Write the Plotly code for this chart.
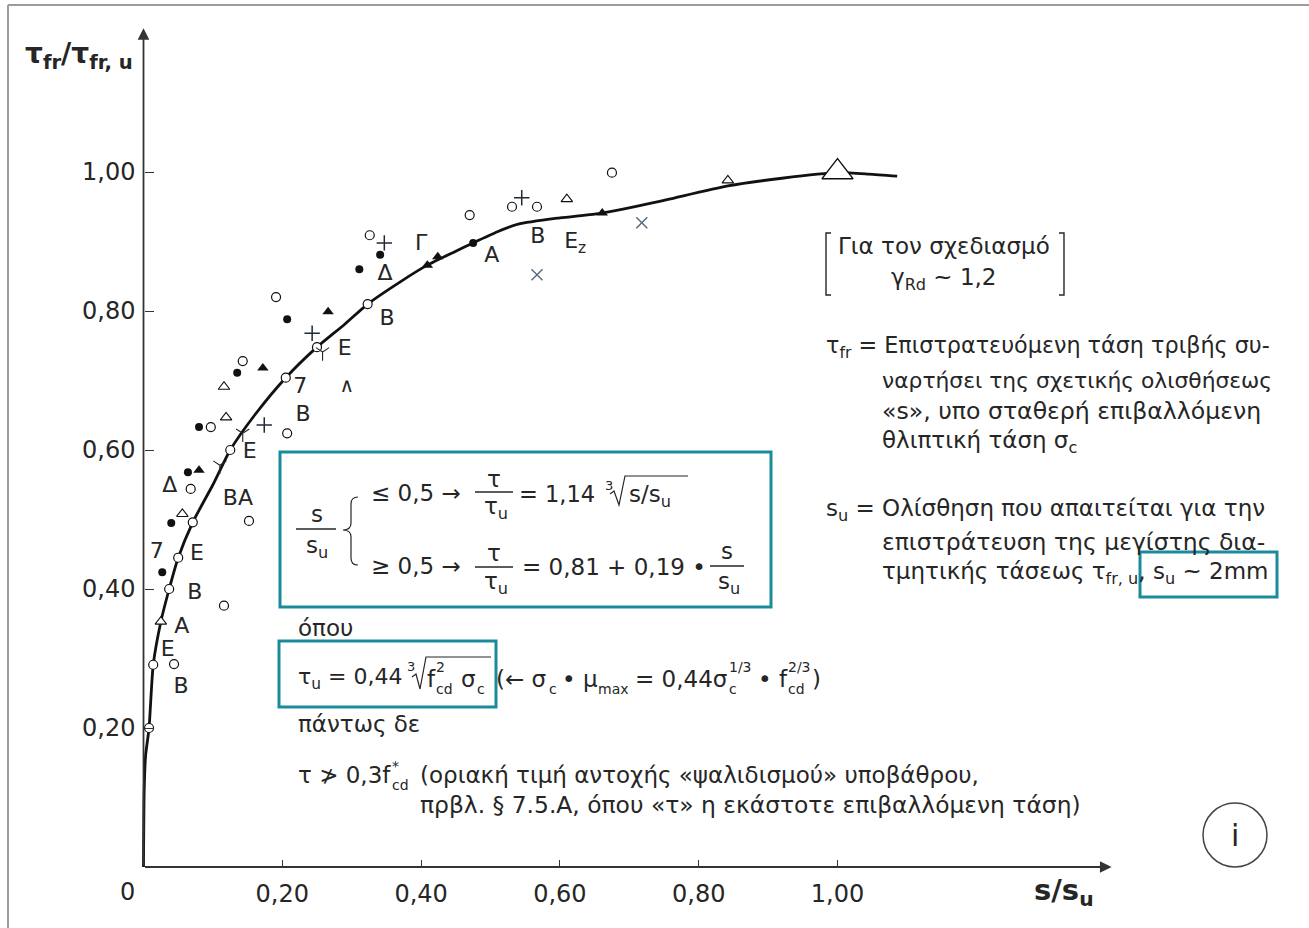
import plotly.graph_objects as go

# ---------------- data ----------------
x_tick_vals = [0.2, 0.4, 0.6, 0.8, 1.0]
x_tick_text = ["0,20", "0,40", "0,60", "0,80", "1,00"]
y_tick_vals = [0.2, 0.4, 0.6, 0.8, 1.0]
y_tick_text = ["0,20", "0,40", "0,60", "0,80", "1,00"]

# design curve tau_fr / tau_fr,u versus s / s_u
curve_x = [0.000, 0.001, 0.003, 0.008, 0.014, 0.025, 0.037, 0.050, 0.071, 0.100,
           0.125, 0.160, 0.205, 0.250, 0.290, 0.323, 0.370, 0.409, 0.450, 0.475,
           0.510, 0.540, 0.600, 0.661, 0.740, 0.842, 0.920, 1.000, 1.045, 1.086]
curve_y = [0.000, 0.110, 0.160, 0.200, 0.291, 0.353, 0.400, 0.445, 0.496, 0.550,
           0.600, 0.650, 0.704, 0.748, 0.781, 0.810, 0.842, 0.866, 0.886, 0.898,
           0.914, 0.925, 0.934, 0.941, 0.957, 0.980, 0.991, 0.999, 0.997, 0.994]

open_circle_x = [0.008, 0.014, 0.044, 0.037, 0.116, 0.050, 0.071, 0.152, 0.068, 0.125, 0.097,
                 0.207, 0.143, 0.205, 0.250, 0.191, 0.323, 0.326, 0.470, 0.531, 0.567, 0.675]
open_circle_y = [0.200, 0.291, 0.292, 0.400, 0.376, 0.445, 0.496, 0.498, 0.544, 0.600, 0.633,
                 0.624, 0.728, 0.704, 0.748, 0.820, 0.810, 0.909, 0.938, 0.950, 0.950, 0.999]

filled_circle_x = [0.027, 0.040, 0.064, 0.080, 0.135, 0.207, 0.311, 0.341, 0.475]
filled_circle_y = [0.424, 0.495, 0.568, 0.633, 0.711, 0.788, 0.860, 0.881, 0.898]

open_triangle_x = [0.025, 0.056, 0.119, 0.116, 0.610, 0.842]
open_triangle_y = [0.353, 0.508, 0.647, 0.691, 0.961, 0.988]

filled_triangle_x = [0.080, 0.172, 0.266, 0.409, 0.424, 0.661]
filled_triangle_y = [0.571, 0.718, 0.799, 0.866, 0.878, 0.941]

plus_x = [0.174, 0.243, 0.347, 0.545]
plus_y = [0.636, 0.768, 0.898, 0.963]

cross_x = [0.567, 0.718]
cross_y = [0.852, 0.927]

wedge_x = [0.110, 0.143, 0.258]
wedge_y = [0.578, 0.624, 0.741]

caret_x = [0.293]
caret_y = [0.691]

peak_x = [1.000]
peak_y = [1.000]

label_text = ["E", "Γ", "Δ", "B", "A", "B", "E<sub>z</sub>", "7", "B", "E", "BA",
              "Δ", "7", "E", "B", "A", "E", "B"]
label_x = [0.290, 0.400, 0.348, 0.351, 0.502, 0.568, 0.622, 0.226, 0.230, 0.153, 0.136,
           0.038, 0.019, 0.077, 0.074, 0.055, 0.035, 0.054]
label_y = [0.744, 0.895, 0.853, 0.788, 0.878, 0.906, 0.898, 0.690, 0.650, 0.597, 0.529,
           0.547, 0.452, 0.449, 0.393, 0.344, 0.312, 0.259]

x_axis_end = 1.395
y_axis_end = 1.207

# ---------------- layout helpers ----------------
W, H = 1309, 928
X0, XU = 143.5, 694.0   # pixel of s/su = 0, pixels per unit
Y0, YU = 867.0, 695.0   # pixel of tau = 0, pixels per unit
x_range = [-X0 / XU, (W - X0) / XU]
y_range = [(Y0 - H) / YU, Y0 / YU]

FONT = "DejaVu Sans, Liberation Sans, sans-serif"
TXT = "#262626"
INK = "#111111"
TEAL = "#1b8b9b"

annotations = []
shapes = []


def P(x):
    return x / W


def Q(y):
    return 1 - y / H


def T(x, y, s, size=23, xa="left", ya="middle", color=TXT, family=FONT):
    annotations.append(dict(x=P(x), y=Q(y), xref="paper", yref="paper", text=s,
                            showarrow=False, xanchor=xa, yanchor=ya, borderpad=0,
                            font=dict(size=size, color=color, family=family)))


def L(x0, y0, x1, y1, color=TXT, width=1.3):
    shapes.append(dict(type="line", xref="paper", yref="paper", x0=P(x0), y0=Q(y0),
                       x1=P(x1), y1=Q(y1), line=dict(color=color, width=width)))


def RECT(x0, y0, x1, y1, color=TEAL, width=3):
    shapes.append(dict(type="rect", xref="paper", yref="paper", x0=P(x0), y0=Q(y0),
                       x1=P(x1), y1=Q(y1), line=dict(color=color, width=width)))


def PATH(cmds, color=TXT, width=1.3):
    parts = []
    for c in cmds:
        op, pts = c[0], c[1:]
        parts.append(op + " " + " ".join(f"{P(pts[i]):.5f},{Q(pts[i+1]):.5f}"
                                         for i in range(0, len(pts), 2)))
    shapes.append(dict(type="path", xref="paper", yref="paper", path=" ".join(parts),
                       line=dict(color=color, width=width)))


def POLY(pts, color=TXT, width=1.3):
    cmds = [("M", pts[0][0], pts[0][1])] + [("L", x, y) for x, y in pts[1:]]
    PATH(cmds, color, width)


fig = go.Figure()

# curve
fig.add_trace(go.Scatter(x=curve_x, y=curve_y, mode="lines",
                         line=dict(color=INK, width=2.8, shape="spline", smoothing=0.6),
                         hoverinfo="skip"))

fig.add_trace(go.Scatter(x=filled_circle_x, y=filled_circle_y, mode="markers",
                         marker=dict(symbol="circle", size=8, color=INK)))
fig.add_trace(go.Scatter(x=open_circle_x, y=open_circle_y, mode="markers",
                         marker=dict(symbol="circle", size=9, color="white",
                                     line=dict(color=INK, width=1.2))))
fig.add_trace(go.Scatter(x=open_triangle_x, y=open_triangle_y, mode="markers",
                         marker=dict(symbol="triangle-up", size=10, color="white",
                                     line=dict(color=INK, width=1.1))))
fig.add_trace(go.Scatter(x=filled_triangle_x, y=filled_triangle_y, mode="markers",
                         marker=dict(symbol="triangle-up", size=10, color=INK)))
fig.add_trace(go.Scatter(x=plus_x, y=plus_y, mode="markers",
                         marker=dict(symbol="cross-thin", size=11, color="#1f2a36",
                                     line=dict(color="#1f2a36", width=1.5))))
fig.add_trace(go.Scatter(x=cross_x, y=cross_y, mode="markers",
                         marker=dict(symbol="x-thin", size=11, color="#55677a",
                                     line=dict(color="#55677a", width=1.4))))
fig.add_trace(go.Scatter(x=wedge_x, y=wedge_y, mode="markers",
                         marker=dict(symbol="y-down-open", size=11, color=TXT,
                                     line=dict(color=TXT, width=1.1))))
fig.add_trace(go.Scatter(x=caret_x, y=caret_y, mode="text", text=["∧"],
                         textfont=dict(size=20, color=TXT, family=FONT)))
fig.add_trace(go.Scatter(x=peak_x, y=peak_y, mode="markers",
                         marker=dict(symbol="triangle-up", size=27, color="white",
                                     line=dict(color=INK, width=1.3))))
fig.add_trace(go.Scatter(x=label_x, y=label_y, mode="text", text=label_text,
                         textposition="middle center",
                         textfont=dict(size=22, color=TXT, family=FONT)))

# axes arrows
annotations.append(dict(x=x_axis_end, y=0, ax=0, ay=0, xref="x", yref="y", axref="x",
                        ayref="y", showarrow=True, arrowhead=2, arrowsize=1.3,
                        arrowwidth=1.8, arrowcolor="#333333", text=""))
annotations.append(dict(x=0, y=y_axis_end, ax=0, ay=0, xref="x", yref="y", axref="x",
                        ayref="y", showarrow=True, arrowhead=2, arrowsize=1.3,
                        arrowwidth=1.8, arrowcolor="#333333", text=""))

# axis titles and origin label
T(127, 892, "0", size=24, xa="center")
T(24, 55, "<b>τ<sub>fr</sub>/τ<sub>fr, u</sub></b>", size=28)
T(1033, 892, "<b>s/s<sub>u</sub></b>", size=29)

# page frame
L(8, 5, 8, 928, "#9c9c9c", 2)
L(8, 5, 1309, 5, "#9c9c9c", 2)

# ---- formula box 1 ----
RECT(280, 452, 771, 607)
T(317, 514, "s", xa="center")
L(296, 529, 336, 529)
T(317, 547, "s<sub>u</sub>", xa="center")
PATH([("M", 358, 497), ("Q", 351, 497, 351, 504), ("L", 351, 523),
      ("Q", 351, 530, 343, 530), ("Q", 351, 530, 351, 537), ("L", 351, 558),
      ("Q", 351, 565, 358, 565)], width=1.2)
T(370, 493, "≤ 0,5 →")
T(494, 479, "τ", xa="center")
L(475, 492, 513, 492)
T(496, 508, "τ<sub>u</sub>", xa="center")
T(518, 494, "= 1,14", size=22.5)
T(609, 486, "3", size=13, xa="center")
POLY([(610, 494), (614, 491), (619, 505), (625, 476), (688, 476)], width=1.2)
T(628, 496, "s/s<sub>u</sub>")
T(370, 566, "≥ 0,5 →")
T(494, 553, "τ", xa="center")
L(475, 567, 513, 567)
T(496, 583, "τ<sub>u</sub>", xa="center")
T(521, 567, "= 0,81 + 0,19 •")
T(727, 551, "s", xa="center")
L(710, 566, 744, 566)
T(729, 583, "s<sub>u</sub>", xa="center")

# ---- lower text ----
T(297, 628, "όπου")
RECT(279, 641, 496, 707)
T(297, 678, "τ<sub>u</sub> = 0,44", size=22)
T(411, 666, "3", size=13, xa="center")
POLY([(412, 677), (416, 674), (420, 689), (426, 657), (491, 657)], width=1.2)
T(426, 679, "f")
T(435, 667, "2", size=14)
T(435, 689, "cd", size=14)
T(460, 679, "σ")
T(476, 689, "c", size=14)
T(495, 679, "(← σ")
T(548, 689, "c", size=14)
T(561, 679, "• μ")
T(597, 689, "max", size=14)
T(634, 679, "= 0,44σ")
T(728, 689, "c", size=14)
T(728, 667, "1/3", size=14)
T(757, 679, "• f")
T(787, 689, "cd", size=14)
T(787, 667, "2/3", size=14)
T(811, 679, ")")
T(297, 724, "πάντως δε")
T(297, 775, "τ ≯ 0,3f")
T(391, 766, "*", size=14)
T(391, 785, "cd", size=14)
T(419, 775, "(οριακή τιμή αντοχής «ψαλιδισμού» υποβάθρου,")
T(419, 805, "πρβλ. § 7.5.Α, όπου «τ» η εκάστοτε επιβαλλόμενη τάση)", size=23.4)

# ---- right panel ----
T(944, 246, "Για τον σχεδιασμό", xa="center")
T(944, 279, "γ<sub>Rd</sub> ~ 1,2", xa="center")
POLY([(831, 233), (826, 233), (826, 295), (831, 295)], width=1.4)
POLY([(1059, 233), (1064, 233), (1064, 295), (1059, 295)], width=1.4)
T(825, 347, "τ<sub>fr</sub> = Επιστρατευόμενη τάση τριβής συ-", size=22.3)
T(881, 380, "ναρτήσει της σχετικής ολισθήσεως", size=21.8)
T(881, 411, "«s», υπο σταθερή επιβαλλόμενη", size=23.6)
T(881, 442, "θλιπτική τάση σ<sub>c</sub>")
T(825, 510, "s<sub>u</sub> = Ολίσθηση που απαιτείται για την")
T(881, 542, "επιστράτευση της μεγίστης δια-", size=23.5)
T(881, 573, "τμητικής τάσεως τ<sub>fr, u</sub>, s<sub>u</sub> ~ 2mm")
RECT(1140, 552, 1277, 597)

# circled i
shapes.append(dict(type="circle", xref="paper", yref="paper", x0=P(1203), x1=P(1267),
                   y0=Q(867), y1=Q(803), line=dict(color="#444444", width=1.5)))
T(1235, 835, "i", size=30, xa="center")

fig.update_layout(
    width=W, height=H, margin=dict(l=0, r=0, t=0, b=0),
    paper_bgcolor="white", plot_bgcolor="white", showlegend=False,
    xaxis=dict(range=x_range, domain=[0, 1], anchor="free", position=(H - Y0) / H,
               showgrid=False, zeroline=False, showline=False,
               tickvals=x_tick_vals, ticktext=x_tick_text, ticks="inside", ticklen=7,
               tickwidth=1.4, tickcolor="#333333", ticklabelstandoff=10,
               tickfont=dict(size=24, color=TXT, family=FONT), fixedrange=True),
    yaxis=dict(range=y_range, domain=[0, 1], anchor="free", position=X0 / W,
               showgrid=False, zeroline=False, showline=False,
               tickvals=y_tick_vals, ticktext=y_tick_text, ticks="inside", ticklen=9,
               tickwidth=1.4, tickcolor="#333333", ticklabelstandoff=8,
               tickfont=dict(size=24, color=TXT, family=FONT), fixedrange=True),
    annotations=annotations, shapes=shapes,
)

fig.write_html("out.html")
